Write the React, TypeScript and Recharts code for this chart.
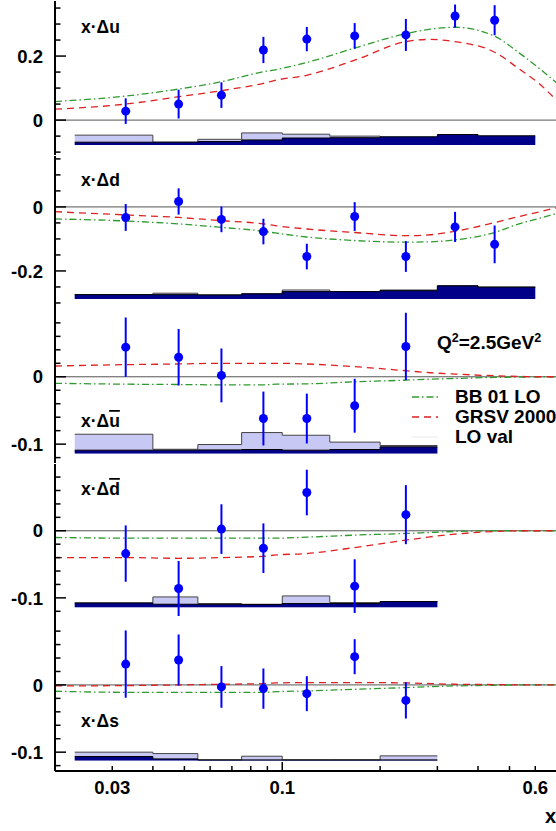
import React from "react";
import {
  ComposedChart,
  XAxis,
  YAxis,
  Line,
  Scatter,
  ErrorBar,
  Area,
  ReferenceLine,
} from "recharts";

const FONT = '"Liberation Sans", Arial, Helvetica, sans-serif';

// x of the measured points
const pointX = [0.033, 0.048, 0.065, 0.0875, 0.119, 0.167, 0.24, 0.34, 0.45];
const curveX = [0.02, 0.033, 0.048, 0.065, 0.0875, 0.096, 0.119, 0.167, 0.24, 0.285, 0.34, 0.45, 0.535, 0.62, 0.7];
// bin edges of the systematic bands
const binEdges = [0.023, 0.04, 0.055, 0.075, 0.1, 0.14, 0.2, 0.3, 0.4, 0.6];

const xDomain = [0.02, 0.72];
const xTicks = [0.03, 0.04, 0.05, 0.06, 0.07, 0.08, 0.09, 0.1, 0.2, 0.3, 0.4, 0.5, 0.6];
const xMajor = [0.1];
const xLabels = [0.03, 0.1, 0.6];

// x·Δu
const uVal = [0.028, 0.05, 0.078, 0.219, 0.253, 0.263, 0.266, 0.325, 0.312];
const uErr = [0.04, 0.045, 0.04, 0.041, 0.038, 0.04, 0.05, 0.036, 0.047];
const uBB = [0.058, 0.075, 0.097, 0.12, 0.151, 0.158, 0.18, 0.225, 0.27, 0.284, 0.29, 0.262, 0.21, 0.16, 0.115];
const uGRSV = [0.034, 0.05, 0.073, 0.092, 0.115, 0.125, 0.14, 0.187, 0.245, 0.252, 0.245, 0.212, 0.16, 0.112, 0.06];
const uLight = [0.031, 0.009, 0.018, 0.038, 0.034, 0.028, 0.02, 0.028, 0.025];
const uDark = [0.009, 0.009, 0.011, 0.016, 0.022, 0.023, 0.026, 0.033, 0.029];

// x·Δd
const dVal = [-0.033, 0.017, -0.039, -0.077, -0.155, -0.03, -0.155, -0.0625, -0.117];
const dErr = [0.042, 0.041, 0.04, 0.04, 0.04, 0.045, 0.048, 0.047, 0.059];
const dBB = [-0.0375, -0.044, -0.053, -0.064, -0.076, -0.082, -0.094, -0.105, -0.11, -0.109, -0.103, -0.08, -0.053, -0.035, -0.02];
const dGRSV = [-0.015, -0.025, -0.033, -0.043, -0.053, -0.059, -0.069, -0.08, -0.09, -0.087, -0.076, -0.049, -0.03, -0.015, -0.002];
const dLight = [0.0135, 0.018, 0.0125, 0.016, 0.028, 0.023, 0.028, 0.041, 0.037];
const dDark = [0.0135, 0.0135, 0.0125, 0.016, 0.023, 0.023, 0.026, 0.041, 0.037];

// x·Δū
const ubVal = [0.044, 0.029, 0.002, -0.062, -0.062, -0.043, 0.045];
const ubErr = [0.044, 0.042, 0.04, 0.04, 0.037, 0.04, 0.05];
const ubBB = [-0.0097, -0.011, -0.0115, -0.012, -0.012, -0.011, -0.0105, -0.0075, -0.005, -0.0035, -0.0025, -0.001, -0.0005, 0, 0];
const ubGRSV = [0.016, 0.018, 0.019, 0.02, 0.02, 0.02, 0.019, 0.015, 0.009, 0.006, 0.004, 0.0015, 0.0005, 0, 0];
const ubLight = [0.0287, 0.0064, 0.0134, 0.0312, 0.0272, 0.017, 0.012];
const ubDark = [0.005, 0.005, 0.0054, 0.006, 0.005, 0.006, 0.01];

// x·Δd̄
const dbVal = [-0.034, -0.086, 0.0025, -0.026, 0.057, -0.0825, 0.024];
const dbErr = [0.042, 0.041, 0.037, 0.037, 0.034, 0.04, 0.044];
const dbBB = [-0.01, -0.011, -0.011, -0.011, -0.011, -0.011, -0.0095, -0.0065, -0.004, -0.0025, -0.001, 0, 0, 0, 0];
const dbGRSV = [-0.04, -0.04, -0.041, -0.04, -0.038, -0.036, -0.034, -0.025, -0.014, -0.009, -0.005, -0.001, 0, 0, 0];
const dbLight = [0.0064, 0.0154, 0.0055, 0.0045, 0.0169, 0.007, 0.0085];
const dbDark = [0.0064, 0.0045, 0.0045, 0.004, 0.0055, 0.0055, 0.0085];

// x·Δs
const sVal = [0.031, 0.037, -0.003, -0.0055, -0.013, 0.042, -0.023];
const sErr = [0.05, 0.038, 0.031, 0.03, 0.026, 0.026, 0.027];
const sBB = [-0.0094, -0.011, -0.011, -0.011, -0.011, -0.01, -0.009, -0.0065, -0.004, -0.0025, -0.0015, -0.0005, 0, 0, 0];
const sGRSV = [-0.0015, -0.001, 0, 0.001, 0.002, 0.003, 0.0035, 0.0035, 0.003, 0.002, 0.001, 0.0005, 0, 0, 0];
const sLight = [0.0125, 0.0104, 0.001, 0.0065, 0.001, 0.001, 0.007];
const sDark = [0.006, 0.0025, 0.001, 0.001, 0.001, 0.001, 0.001];

const bigTicks = [-0.3, -0.25, -0.2, -0.15, -0.1, -0.05, 0, 0.05, 0.1, 0.15, 0.2, 0.25, 0.3, 0.35];
const smallTicks = [-0.12, -0.1, -0.08, -0.06, -0.04, -0.02, 0, 0.02, 0.04, 0.06, 0.08];

const pts = (val: number[], err: number[]) => val.map((v, i) => ({ x: pointX[i], y: v, e: err[i] }));
const curve = (val: number[]) => val.map((v, i) => ({ x: curveX[i], y: v }));
// step histogram: last edge repeats the last bin height
const band = (h: number[], base: number) =>
  binEdges.slice(0, h.length + 1).map((e, i) => ({ x: e, y: base + h[Math.min(i, h.length - 1)] }));

const panels = [
  { top: 1, domain: [-0.109, 0.372], ticks: bigTicks.filter((t) => t > -0.109 && t < 0.372), major: [0, 0.2], base: -0.078, val: uVal, err: uErr, bb: uBB, grsv: uGRSV, light: uLight, dark: uDark },
  { top: 156, domain: [-0.322, 0.159], ticks: bigTicks.filter((t) => t > -0.322 && t < 0.159), major: [-0.2, 0], base: -0.2875, val: dVal, err: dErr, bb: dBB, grsv: dGRSV, light: dLight, dark: dDark },
  { top: 309, domain: [-0.128, 0.1006], ticks: smallTicks, major: [-0.1, 0], base: -0.114, val: ubVal, err: ubErr, bb: ubBB, grsv: ubGRSV, light: ubLight, dark: ubDark },
  { top: 464, domain: [-0.13, 0.0995], ticks: smallTicks, major: [-0.1, 0], base: -0.114, val: dbVal, err: dbErr, bb: dbBB, grsv: dbGRSV, light: dbLight, dark: dbDark },
  { top: 617, domain: [-0.128, 0.101], ticks: smallTicks, major: [-0.1, 0], base: -0.1125, val: sVal, err: sErr, bb: sBB, grsv: sGRSV, light: sLight, dark: sDark },
];

const isIn = (v: number, list: number[]) => list.some((m) => Math.abs(m - v) < 1e-9);

const XTick = (props: any) => {
  const { x, y, payload, side, labels } = props;
  const len = isIn(payload.value, xMajor) ? 9 : 5;
  const dir = side === "bottom" ? -1 : 1;
  return (
    <g>
      <line x1={x} x2={x} y1={y} y2={y + dir * len} stroke="#000" strokeWidth={1.5} />
      {labels && isIn(payload.value, xLabels) && (
        <text x={x} y={y + 23} textAnchor="middle" fontFamily={FONT} fontWeight="bold" fontSize={18.5} fill="#000">
          {String(payload.value)}
        </text>
      )}
    </g>
  );
};

const YTick = (props: any) => {
  const { x, y, payload, major } = props;
  const big = isIn(payload.value, major);
  return (
    <g>
      <line x1={x} x2={x + (big ? 11 : 5.5)} y1={y} y2={y} stroke="#000" strokeWidth={1.5} />
      {big && (
        <text x={x - 12} y={y} dy="0.36em" textAnchor="end" fontFamily={FONT} fontWeight="bold" fontSize={18.5} fill="#000">
          {Math.abs(payload.value) < 1e-9 ? "0" : String(payload.value)}
        </text>
      )}
    </g>
  );
};

const Dot = (props: any) => <circle cx={props.cx} cy={props.cy} r={4.5} fill="#0000ff" />;

const Panel = ({ p, last }: { p: any; last: boolean }) => {
  const h = 154;
  const extra = last ? 50 : 0;
  return (
    <div style={{ position: "absolute", left: 0, top: p.top - 2 }}>
      <ComposedChart width={561} height={h + 4 + extra} margin={{ top: 2, right: 0, bottom: 2, left: 0 }}>
        <XAxis
          dataKey="x"
          type="number"
          scale="log"
          domain={xDomain}
          allowDataOverflow
          ticks={xTicks}
          interval={0}
          height={extra}
          tickSize={0}
          tickMargin={0}
          tickLine={false}
          axisLine={{ stroke: "#000", strokeWidth: 2 }}
          tick={(tp: any) => <XTick {...tp} side="bottom" labels={last} />}
        />
        <XAxis
          xAxisId="top"
          orientation="top"
          type="number"
          scale="log"
          domain={xDomain}
          allowDataOverflow
          ticks={xTicks}
          interval={0}
          height={0}
          tickSize={0}
          tickMargin={0}
          tickLine={false}
          axisLine={{ stroke: "#000", strokeWidth: 2 }}
          tick={(tp: any) => <XTick {...tp} side="top" labels={false} />}
        />
        <YAxis
          type="number"
          domain={p.domain}
          allowDataOverflow
          ticks={p.ticks}
          interval={0}
          width={55}
          tickSize={0}
          tickMargin={0}
          tickLine={false}
          axisLine={{ stroke: "#000", strokeWidth: 2 }}
          tick={(tp: any) => <YTick {...tp} major={p.major} />}
        />
        <Area
          data={band(p.light, p.base)}
          dataKey="y"
          type="stepAfter"
          baseValue={p.base}
          fill="#c8c8f4"
          fillOpacity={1}
          stroke="#444"
          strokeWidth={1}
          dot={false}
          activeDot={false}
          isAnimationActive={false}
        />
        <Area
          data={band(p.dark, p.base)}
          dataKey="y"
          type="stepAfter"
          baseValue={p.base}
          fill="#000088"
          fillOpacity={1}
          stroke="#000"
          strokeWidth={1}
          dot={false}
          activeDot={false}
          isAnimationActive={false}
        />
        <ReferenceLine y={0} stroke="#555" strokeWidth={1} />
        <Line
          data={curve(p.bb)}
          dataKey="y"
          type="monotone"
          stroke="#2f9a2f"
          strokeWidth={1.3}
          strokeDasharray="7 3 1.5 3"
          dot={false}
          activeDot={false}
          isAnimationActive={false}
        />
        <Line
          data={curve(p.grsv)}
          dataKey="y"
          type="monotone"
          stroke="#dd2020"
          strokeWidth={1.3}
          strokeDasharray="7 5"
          dot={false}
          activeDot={false}
          isAnimationActive={false}
        />
        <Scatter data={pts(p.val, p.err)} dataKey="y" shape={Dot} isAnimationActive={false}>
          <ErrorBar dataKey="e" direction="y" width={0} stroke="#0000ff" strokeWidth={2} />
        </Scatter>
      </ComposedChart>
    </div>
  );
};

const bold = { fontFamily: FONT, fontWeight: "bold" as const, fill: "#000" };

export default function App() {
  return (
    <div style={{ position: "absolute", left: 0, top: 0, width: 556, height: 831, overflow: "hidden", background: "#fff" }}>
      {panels.map((p, i) => (
        <Panel key={i} p={p} last={i === panels.length - 1} />
      ))}
      <svg width={556} height={831} style={{ position: "absolute", left: 0, top: 0, pointerEvents: "none" }}>
        <text x={81} y={33} fontSize={17.5} {...bold}>x·Δu</text>
        <text x={81} y={186} fontSize={17.5} {...bold}>x·Δd</text>
        <text x={81} y={427} fontSize={17.5} {...bold}>
          x·Δ<tspan style={{ textDecoration: "overline" }}>u</tspan>
        </text>
        <text x={81} y={495} fontSize={17.5} {...bold}>
          x·Δ<tspan style={{ textDecoration: "overline" }}>d</tspan>
        </text>
        <text x={81} y={727} fontSize={17.5} {...bold}>x·Δs</text>

        <text x={437} y={349} fontSize={19} {...bold}>
          Q<tspan dy={-7} fontSize={12.5}>2</tspan>
          <tspan dy={7}>=2.5GeV</tspan>
          <tspan dy={-7} fontSize={12.5}>2</tspan>
        </text>

        <line x1={412} x2={438} y1={397} y2={397} stroke="#2f9a2f" strokeWidth={1.3} strokeDasharray="7 3 1.5 3" />
        <text x={455} y={403} fontSize={19} {...bold}>BB 01 LO</text>
        <line x1={412} x2={438} y1={417} y2={417} stroke="#dd2020" strokeWidth={1.3} strokeDasharray="7 5" />
        <text x={455} y={423} fontSize={19} {...bold}>GRSV 2000</text>
        <line x1={412} x2={438} y1={437} y2={437} stroke="#eee" strokeWidth={1.3} />
        <text x={455} y={443} fontSize={19} {...bold}>LO val</text>

        <text x={545} y={823} fontSize={20} {...bold}>x</text>
      </svg>
    </div>
  );
}
